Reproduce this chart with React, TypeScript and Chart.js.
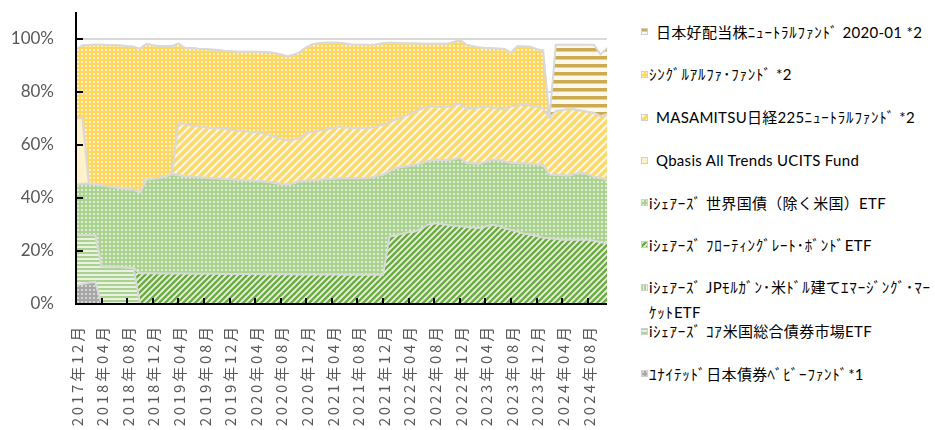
import React, { useEffect, useRef } from 'react';
import { Chart, registerables } from 'chart.js';

Chart.register(...registerables);

// ---- categories (monthly) ----
const months: string[] = [
  '2017年12月',
  '2018年01月', '2018年02月', '2018年03月', '2018年04月', '2018年05月', '2018年06月', '2018年07月', '2018年08月', '2018年09月', '2018年10月', '2018年11月', '2018年12月',
  '2019年01月', '2019年02月', '2019年03月', '2019年04月', '2019年05月', '2019年06月', '2019年07月', '2019年08月', '2019年09月', '2019年10月', '2019年11月', '2019年12月',
  '2020年01月', '2020年02月', '2020年03月', '2020年04月', '2020年05月', '2020年06月', '2020年07月', '2020年08月', '2020年09月', '2020年10月', '2020年11月', '2020年12月',
  '2021年01月', '2021年02月', '2021年03月', '2021年04月', '2021年05月', '2021年06月', '2021年07月', '2021年08月', '2021年09月', '2021年10月', '2021年11月', '2021年12月',
  '2022年01月', '2022年02月', '2022年03月', '2022年04月', '2022年05月', '2022年06月', '2022年07月', '2022年08月', '2022年09月', '2022年10月', '2022年11月', '2022年12月',
  '2023年01月', '2023年02月', '2023年03月', '2023年04月', '2023年05月', '2023年06月', '2023年07月', '2023年08月', '2023年09月', '2023年10月', '2023年11月', '2023年12月',
  '2024年01月', '2024年02月', '2024年03月', '2024年04月', '2024年05月', '2024年06月', '2024年07月', '2024年08月', '2024年09月', '2024年10月', '2024年11月',
];

// ---- y tick values (%) ----
const yTicks: number[] = [0, 20, 40, 60, 80, 100];

// ---- series values (% of portfolio), bottom of stack first ----
const united: number[] = [
  7.0,
  7.5, 8.0, 8.3, 0, 0, 0, 0, 0, 0, 0, 0, 0,
  0, 0, 0, 0, 0, 0, 0, 0, 0, 0, 0, 0,
  0, 0, 0, 0, 0, 0, 0, 0, 0, 0, 0, 0,
  0, 0, 0, 0, 0, 0, 0, 0, 0, 0, 0, 0,
  0, 0, 0, 0, 0, 0, 0, 0, 0, 0, 0, 0,
  0, 0, 0, 0, 0, 0, 0, 0, 0, 0, 0, 0,
  0, 0, 0, 0, 0, 0, 0, 0, 0, 0, 0,
];
const coreAgg: number[] = [
  19.0,
  18.5, 18.0, 17.7, 14.0, 14.0, 14.0, 13.8, 13.7, 13.5, 0, 0, 0,
  0, 0, 0, 0, 0, 0, 0, 0, 0, 0, 0, 0,
  0, 0, 0, 0, 0, 0, 0, 0, 0, 0, 0, 0,
  0, 0, 0, 0, 0, 0, 0, 0, 0, 0, 0, 0,
  0, 0, 0, 0, 0, 0, 0, 0, 0, 0, 0, 0,
  0, 0, 0, 0, 0, 0, 0, 0, 0, 0, 0, 0,
  0, 0, 0, 0, 0, 0, 0, 0, 0, 0, 0,
];
const emBond: number[] = [
  0,
  0, 0, 0, 0, 0, 0, 0, 0, 0, 0, 0, 0,
  0, 0, 0, 0, 0, 0, 0, 0, 0, 0, 0, 0,
  0, 0, 0, 0, 0, 0, 0, 0, 0, 0, 0, 0,
  0, 0, 0, 0, 0, 0, 0, 0, 0, 0, 0, 0,
  0, 0, 0, 0, 0, 0, 0, 0, 0, 0, 0, 0,
  0, 0, 0, 0, 0, 0, 0, 0, 0, 0, 0, 0,
  0, 0, 0, 0, 0, 0, 0, 0, 0, 0, 0,
];
const floatRate: number[] = [
  0,
  0, 0, 0, 0, 0, 0, 0, 0, 0, 11.6, 11.6, 11.6,
  11.5, 11.5, 11.5, 11.5, 11.5, 11.4, 11.4, 11.4, 11.4, 11.4, 11.3, 11.3,
  11.3, 11.3, 11.3, 11.3, 11.2, 11.2, 11.2, 11.2, 11.2, 11.2, 11.1, 11.1,
  11.1, 11.1, 11.1, 11.1, 11.1, 11.0, 11.0, 11.0, 11.0, 11.0, 11.0, 11.0,
  25.4, 25.8, 26.5, 27.0, 27.3, 28.5, 29.8, 30.4, 30.2, 29.8, 29.5, 29.4,
  29.0, 28.8, 28.6, 29.2, 29.8, 29.5, 28.5, 27.9, 27.3, 26.5, 26.2, 25.6,
  25.0, 24.8, 24.5, 24.2, 24.2, 24.3, 24.2, 24.2, 23.8, 23.3, 22.9,
];
const worldGov: number[] = [
  18.9,
  19.3, 19.4, 19.0, 30.6, 30.3, 30.0, 29.8, 29.5, 29.5, 30.4, 35.2, 35.6,
  36.0, 36.5, 37.4, 37.0, 36.5, 36.6, 36.4, 36.2, 36.0, 35.9, 35.8, 35.7,
  35.5, 35.4, 35.2, 35.1, 35.0, 34.8, 34.4, 34.0, 33.7, 34.3, 35.1, 35.3,
  35.5, 35.7, 35.9, 36.0, 36.2, 36.4, 36.4, 36.4, 36.4, 36.5, 37.3, 37.7,
  24.6, 25.4, 25.1, 25.0, 25.2, 24.5, 24.0, 23.9, 24.0, 24.3, 25.0, 25.6,
  24.1, 24.2, 24.2, 24.3, 24.5, 24.8, 25.2, 25.2, 25.7, 26.4, 26.6, 27.0,
  27.5, 23.9, 24.1, 24.3, 24.1, 24.7, 25.3, 24.6, 24.2, 24.1, 23.9,
];
const qbasis: number[] = [
  25.1,
  24.7, 0, 0, 0, 0, 0, 0, 0, 0, 0, 0, 0,
  0, 0, 0, 0, 0, 0, 0, 0, 0, 0, 0, 0,
  0, 0, 0, 0, 0, 0, 0, 0, 0, 0, 0, 0,
  0, 0, 0, 0, 0, 0, 0, 0, 0, 0, 0, 0,
  0, 0, 0, 0, 0, 0, 0, 0, 0, 0, 0, 0,
  0, 0, 0, 0, 0, 0, 0, 0, 0, 0, 0, 0,
  0, 0, 0, 0, 0, 0, 0, 0, 0, 0, 0,
];
const masamitsu: number[] = [
  0,
  0, 0, 0, 0, 0, 0, 0, 0, 0, 0, 0, 0,
  0, 0, 0, 19.7, 19.8, 19.2, 19.1, 19.0, 18.9, 18.9, 18.9, 18.7,
  18.6, 18.5, 18.4, 18.3, 18.2, 17.8, 17.4, 17.0, 16.7, 16.5, 16.3, 18.0,
  18.2, 18.5, 18.7, 19.1, 19.4, 19.1, 18.9, 18.9, 18.9, 18.8, 18.7, 18.8,
  18.5, 18.3, 18.8, 19.3, 20.0, 20.5, 20.7, 20.0, 20.0, 20.1, 20.3, 20.5,
  20.4, 20.6, 21.2, 21.0, 19.7, 19.3, 19.5, 21.4, 21.8, 22.2, 22.0, 21.7,
  21.3, 21.3, 24.0, 24.5, 25.2, 24.3, 23.3, 23.5, 24.0, 23.3, 24.7,
];
const singleAlpha: number[] = [
  25.8,
  27.4, 52.2, 52.7, 53.1, 53.3, 53.5, 53.8, 53.9, 53.9, 54.1, 51.2, 50.3,
  49.6, 49.1, 48.2, 29.9, 28.7, 29.2, 29.3, 29.5, 29.6, 29.5, 29.4, 29.5,
  29.6, 29.8, 30.1, 30.3, 30.5, 31.0, 31.6, 31.8, 31.7, 31.8, 32.4, 32.3,
  33.1, 32.9, 32.7, 32.2, 31.7, 31.6, 31.5, 31.4, 31.4, 31.3, 30.8, 30.7,
  29.9, 28.8, 27.8, 26.8, 25.6, 24.5, 23.5, 23.7, 23.8, 23.8, 23.8, 23.9,
  24.2, 23.5, 22.6, 21.9, 22.3, 22.6, 22.9, 20.1, 22.3, 21.9, 22.1, 21.7,
  21.7, 0, 0, 0, 0, 0, 0, 0, 0, 0, 0,
];
const highDividend: number[] = [
  0,
  0, 0, 0, 0, 0, 0, 0, 0, 0, 0, 0, 0,
  0, 0, 0, 0, 0, 0, 0, 0, 0, 0, 0, 0,
  0, 0, 0, 0, 0, 0, 0, 0, 0, 0, 0, 0,
  0, 0, 0, 0, 0, 0, 0, 0, 0, 0, 0, 0,
  0, 0, 0, 0, 0, 0, 0, 0, 0, 0, 0, 0,
  0, 0, 0, 0, 0, 0, 0, 0, 0, 0, 0, 0,
  0, 0, 25.1, 24.7, 24.2, 24.4, 24.9, 25.4, 25.6, 23.3, 25.0,
];

// ---- series names ----
const nameUnited = 'ﾕﾅｲﾃｯﾄﾞ日本債券ﾍﾞﾋﾞｰﾌｧﾝﾄﾞ*1';
const nameCore = 'iｼｪｱｰｽﾞ ｺｱ米国総合債券市場ETF';
const nameEM = 'iｼｪｱｰｽﾞ JPﾓﾙｶﾞﾝ･米ﾄﾞﾙ建てｴﾏｰｼﾞﾝｸﾞ･ﾏｰｹｯﾄETF';
const nameFloat = 'iｼｪｱｰｽﾞ ﾌﾛｰﾃｨﾝｸﾞﾚｰﾄ･ﾎﾞﾝﾄﾞETF';
const nameWorld = 'iｼｪｱｰｽﾞ 世界国債（除く米国）ETF';
const nameQbasis = 'Qbasis All Trends UCITS Fund';
const nameMasa = 'MASAMITSU日経225ﾆｭｰﾄﾗﾙﾌｧﾝﾄﾞ *2';
const nameSingle = 'ｼﾝｸﾞﾙｱﾙﾌｧ･ﾌｧﾝﾄﾞ *2';
const nameGold = '日本好配当株ﾆｭｰﾄﾗﾙﾌｧﾝﾄﾞ 2020-01 *2';

type PatSpec = { kind: 'dots' | 'h' | 'v' | 'diag' | 'solid'; fg: string; bg: string; p: number; w: number; mid?: string };

const SERIES: { name: string; data: number[]; pat: PatSpec; indent: boolean }[] = [
  { name: nameUnited, data: united, pat: { kind: 'dots', fg: '#D4D4D4', bg: '#A6A6A6', p: 4, w: 2 }, indent: false },
  { name: nameCore, data: coreAgg, pat: { kind: 'h', fg: '#ABD291', bg: '#E7F2DF', p: 4, w: 2 }, indent: false },
  { name: nameEM, data: emBond, pat: { kind: 'v', fg: '#ABD291', bg: '#E7F2DF', p: 3, w: 2 }, indent: false },
  { name: nameFloat, data: floatRate, pat: { kind: 'diag', fg: '#6EAC44', bg: '#EDF6E6', p: 6, w: 2.6 }, indent: false },
  { name: nameWorld, data: worldGov, pat: { kind: 'dots', fg: '#DCEED0', bg: '#ABD291', p: 4, w: 2 }, indent: false },
  { name: nameQbasis, data: qbasis, pat: { kind: 'solid', fg: '#FFF1C9', bg: '#FFF1C9', p: 4, w: 0 }, indent: true },
  { name: nameMasa, data: masamitsu, pat: { kind: 'diag', fg: '#FFD966', bg: '#FFF7DD', p: 8, w: 3.4 }, indent: true },
  { name: nameSingle, data: singleAlpha, pat: { kind: 'dots', fg: '#FFF2C8', bg: '#FFD65E', p: 4, w: 2 }, indent: false },
  { name: nameGold, data: highDividend, pat: { kind: 'h', fg: '#CCAA50', bg: '#FDF8EB', p: 8, w: 3, mid: '#E4D09A' }, indent: true },
];

function buildTile(s: PatSpec): HTMLCanvasElement {
  const p = s.p;
  const c = document.createElement('canvas');
  c.width = p;
  c.height = p;
  const g = c.getContext('2d')!;
  g.fillStyle = s.bg;
  g.fillRect(0, 0, p, p);
  g.fillStyle = s.fg;
  g.strokeStyle = s.fg;
  if (s.kind === 'dots') {
    g.fillRect(1, 1, 2, 2);
  } else if (s.kind === 'h') {
    g.fillRect(0, 0, p, s.w);
    if (s.mid) {
      g.fillStyle = s.mid;
      g.fillRect(0, s.w, p, 1);
    }
  } else if (s.kind === 'v') {
    g.fillRect(0, 0, s.w, p);
  } else if (s.kind === 'diag') {
    g.lineWidth = s.w;
    g.beginPath();
    g.moveTo(0, p); g.lineTo(p, 0);
    g.moveTo(-p / 2, p / 2); g.lineTo(p / 2, -p / 2);
    g.moveTo(p / 2, 1.5 * p); g.lineTo(1.5 * p, p / 2);
    g.stroke();
  }
  return c;
}

const axesPlugin = {
  id: 'axesPlugin',
  afterDatasetsDraw(chart: any) {
    const { ctx, chartArea: a, scales } = chart;
    const xs = scales.x;
    const ys = scales.y;
    ctx.save();
    ctx.strokeStyle = '#000000';
    ctx.lineWidth = 2;
    ctx.beginPath();
    for (let i = 4; i < months.length; i += 4) {
      const px = Math.round(xs.getPixelForValue(i));
      ctx.moveTo(px, a.bottom);
      ctx.lineTo(px, a.bottom - 6);
    }
    for (const v of yTicks) {
      if (v === 0) continue;
      const py = Math.round(ys.getPixelForValue(v));
      ctx.moveTo(a.left, py);
      ctx.lineTo(a.left + 7, py);
    }
    ctx.stroke();
    ctx.beginPath();
    ctx.moveTo(a.left, a.top);
    ctx.lineTo(a.left, a.bottom);
    ctx.lineTo(a.right, a.bottom);
    ctx.stroke();
    ctx.restore();
  },
  afterDraw(chart: any) {
    const { ctx, chartArea: a, scales } = chart;
    const xs = scales.x;
    ctx.save();
    ctx.fillStyle = '#595959';
    ctx.font = '15px "Noto Sans CJK JP", sans-serif';
    (ctx as any).letterSpacing = '2.8px';
    ctx.textAlign = 'right';
    ctx.textBaseline = 'middle';
    for (let i = 0; i < months.length; i += 4) {
      const px = xs.getPixelForValue(i);
      ctx.save();
      ctx.translate(px + 1, a.bottom + 20);
      ctx.rotate(-Math.PI / 2);
      ctx.fillText(months[i], 0, 0);
      ctx.restore();
    }
    ctx.restore();
  },
};

// split a legend label into runs so half-width katakana get slightly wider spacing
function renderRuns(text: string) {
  const parts = text.split(/([\uFF61-\uFF9F]+)/);
  return parts.map((p, k) =>
    /[\uFF61-\uFF9F]/.test(p)
      ? <span key={k} style={{ letterSpacing: '0.8px' }}>{p}</span>
      : <span key={k}>{p}</span>
  );
}

export default function App() {
  const canvasRef = useRef<HTMLCanvasElement>(null);
  const swatchRefs = useRef<(HTMLCanvasElement | null)[]>([]);

  useEffect(() => {
    document.body.style.margin = '0';
    const canvas = canvasRef.current!;
    const ctx = canvas.getContext('2d')!;
    const datasets = SERIES.map((s, i) => {
      const tile = buildTile(s.pat);
      const pattern = ctx.createPattern(tile, 'repeat')!;
      return {
        label: s.name,
        data: s.data,
        backgroundColor: pattern,
        borderColor: '#D9D9D9',
        borderWidth: 2,
        pointRadius: 0,
        pointHoverRadius: 0,
        tension: 0,
        fill: i === 0 ? 'origin' : '-1',
      };
    });

    const chart = new Chart(ctx, {
      type: 'line',
      data: { labels: months, datasets: datasets as any },
      options: {
        animation: false,
        responsive: false,
        events: [],
        layout: { padding: { top: 12, right: 13, left: 0, bottom: 0 } },
        plugins: { legend: { display: false }, tooltip: { enabled: false } },
        scales: {
          x: {
            type: 'category',
            offset: false,
            grid: { display: false },
            border: { display: false },
            ticks: { display: false },
            afterFit: (s: any) => { s.height = 126; s.paddingLeft = 0; s.paddingRight = 0; },
          },
          y: {
            stacked: true,
            min: 0,
            max: 110,
            grid: { color: '#D9D9D9', lineWidth: 2, drawTicks: false },
            border: { display: false },
            ticks: {
              stepSize: 20,
              includeBounds: false,
              padding: 22,
              color: '#595959',
              font: { family: 'Lato', size: 17 },
              callback: (v: any) => (yTicks.includes(Number(v)) ? v + '%' : ''),
            },
            afterFit: (s: any) => { s.width = 76; s.paddingTop = 0; s.paddingBottom = 0; },
          },
        },
      },
      plugins: [axesPlugin],
    });

    // legend swatches
    const legendSeries = [...SERIES].reverse();
    legendSeries.forEach((s, i) => {
      const c = swatchRefs.current[i];
      if (!c) return;
      const g = c.getContext('2d')!;
      const pat = g.createPattern(buildTile(s.pat), 'repeat')!;
      g.fillStyle = pat;
      g.fillRect(0, 0, c.width, c.height);
      g.strokeStyle = '#D0D0D0';
      g.lineWidth = 1;
      g.strokeRect(0.5, 0.5, c.width - 1, c.height - 1);
    });

    return () => chart.destroy();
  }, []);

  const legendSeries = [...SERIES].reverse();
  const centers = [31.5, 74, 117, 160, 202.5, 244.5, 287, 331, 373.5];

  return (
    <div style={{ position: 'relative', width: 935, height: 430, overflow: 'hidden', background: '#ffffff' }}>
      <canvas ref={canvasRef} width={620} height={430} style={{ position: 'absolute', left: 0, top: 0 }} />
      {legendSeries.map((s, i) => {
        const cy = centers[i];
        const brk = s.name === nameEM ? s.name.indexOf('ｹｯﾄ') : -1;
        const lines = brk > 0 ? [s.name.slice(0, brk), s.name.slice(brk)] : [s.name];
        return (
          <React.Fragment key={s.name}>
            <canvas
              ref={(el) => { swatchRefs.current[i] = el; }}
              width={7}
              height={7}
              style={{ position: 'absolute', left: 641, top: Math.round(cy - 3.5) }}
            />
            {lines.map((ln, j) => (
              <div
                key={j}
                style={{
                  position: 'absolute',
                  left: j === 0 ? (s.indent ? 656 : 649) : 649,
                  top: cy - 10 + j * 25,
                  height: 20,
                  lineHeight: '20px',
                  whiteSpace: 'nowrap',
                  fontFamily: 'Lato, "Noto Sans CJK JP", sans-serif',
                  fontSize: 15,
                  letterSpacing: '0.3px',
                  color: '#000000',
                }}
              >
                {renderRuns(ln)}
              </div>
            ))}
          </React.Fragment>
        );
      })}
    </div>
  );
}
